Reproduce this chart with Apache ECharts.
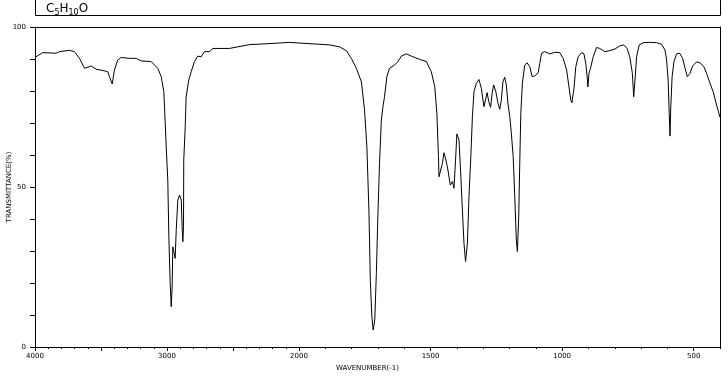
<!DOCTYPE html>
<html><head><meta charset="utf-8">
<script src="https://cdn.jsdelivr.net/npm/echarts@6/dist/echarts.min.js"></script>
<style>html,body{margin:0;padding:0;background:#fff}#c{width:728px;height:380px}</style>
</head><body><div id="c"></div>
<script>
// Wavenumber (cm-1) and transmittance (%)
const wavenumber = [
 4000,3941,3839,3814,3739,3701,3663,3625,3574,3536,3473,3448,3436,3415,3398,3373,3347,3284,3233,3195,
 3120,3070,3044,3024,3019,3006,2994,2986,2976,2968,2961,2956,2948,2938,2930,2918,2905,2892,2885,2880,
 2875,2873,2862,2855,2835,2817,2792,2767,2741,2716,2678,2653,2527,2375,2227,2073,2000,
 1884,1846,1820,1801,1782,1763,1751,1742,1734,1729,1723,1718,1712,1706,1700,1694,1687,1681,1675,1666,
 1656,1637,1624,1611,1592,1573,1542,1516,1497,1484,1476,1470,1468,1462,1455,1449,1443,1434,1425,1417,
 1411,1405,1400,1392,1386,1379,1373,1367,1360,1354,1347,1341,1335,1326,1316,1307,1297,1290,1285,1279,
 1272,1266,1260,1252,1244,1237,1231,1225,1218,1212,1206,1199,1193,1186,1180,1174,1170,1165,1161,1157,
 1151,1142,1133,1126,1123,1114,1104,1091,1085,1078,1066,1047,1028,1009,996,983,974,967,963,955,
 948,939,926,917,910,905,902,898,892,882,869,857,838,819,800,781,766,753,743,733,
 728,723,717,707,692,667,641,622,609,603,597,593,590,587,582,575,565,553,542,533,
 524,514,504,489,476,461,451,438,426,413,400
];
const transmittance = [
 90.5,92.0,91.8,92.3,92.7,92.3,90.2,87.1,87.8,86.8,86.3,86.0,84.5,82.2,86.6,89.7,90.5,90.2,90.2,89.4,
 89.2,87.1,84.5,79.8,75.1,62.6,52.2,34.5,19.9,12.6,18.8,31.3,31.3,27.7,36.6,45.9,47.5,45.9,37.1,32.9,
 37.6,58.4,68.8,78.2,83.4,86.0,89.2,90.9,90.7,92.3,92.3,93.3,93.3,94.5,94.8,95.2,95.0,
 94.4,93.8,92.6,90.2,87.1,82.9,74.1,62.6,41.8,20.9,9.5,5.3,8.4,23.0,41.8,57.4,70.9,75.1,78.2,84.5,
 87.1,88.1,89.2,90.9,91.6,90.9,89.9,89.2,86.0,81.3,73.0,59.5,53.2,53.2,57.4,60.7,59.0,55.3,50.6,51.7,
 49.6,58.4,66.6,64.7,55.3,42.8,32.4,26.7,32.4,47.0,59.5,72.0,79.8,82.4,83.6,80.8,75.1,77.7,79.5,76.7,
 74.9,79.3,81.9,79.8,76.2,74.3,77.2,82.9,84.3,81.9,76.2,72.0,66.8,59.5,47.0,33.4,29.8,40.7,57.4,73.0,
 82.4,88.1,88.8,88.4,87.6,84.5,84.7,85.7,88.6,91.8,92.3,91.6,92.1,92.0,90.2,86.6,81.3,77.2,76.3,80.8,
 87.6,90.7,92.0,91.6,88.6,84.5,81.3,85.5,87.1,90.7,93.6,93.3,92.3,92.6,93.1,94.1,94.4,93.3,90.7,85.5,
 78.2,83.4,90.7,94.4,95.1,95.2,95.1,94.6,92.8,89.7,83.4,73.0,65.9,75.1,84.5,89.2,91.6,91.8,90.2,87.1,
 84.5,85.5,87.8,89.1,88.8,87.6,85.5,82.4,79.8,75.6,71.8
];
const xTickLabels = [4000, 3000, 2000, 1500, 1000, 500];
const yTickLabels = [0, 50, 100];
const formulaParts = ['C', '5', 'H', '10', 'O'];
const xTitle = 'WAVENUMBER(-1)';
const yTitle = 'TRANSMITTANCE(%)';

(function () {
const pts = wavenumber.map((w, i) => [w, transmittance[i]]);
const hiPts = pts.filter(p => p[0] >= 2000);
const loPts = pts.filter(p => p[0] <= 2000);

const FONT = 'DejaVu Sans';
const BLACK = '#000';
const gLeft = 35, gTop = 27, gHeight = 320, gSplit = 299, gRight = 720;
const loW = gRight - gSplit;
const perCm = loW / 1600;

const lineBase = { show: true, lineStyle: { color: BLACK, width: 1 } };
const noSplit = { show: false };

const chart = echarts.init(document.getElementById('c'), null, { renderer: 'canvas' });
chart.setOption({
  animation: false,
  backgroundColor: '#fff',
  title: [
    {
      text: '{b|' + formulaParts[0] + '}{s|' + formulaParts[1] + '}{b|' + formulaParts[2] + '}{s|' + formulaParts[3] + '}{b|' + formulaParts[4] + '}',
      left: 41, top: -2,
      textStyle: {
        fontWeight: 'normal',
        rich: {
          b: { fontFamily: FONT, fontSize: 12, fontWeight: 'normal', color: BLACK, lineHeight: 14, verticalAlign: 'top' },
          s: { fontFamily: FONT, fontSize: 8, fontWeight: 'normal', color: BLACK, lineHeight: 14, verticalAlign: 'bottom', padding: [5, 0, 0, 0] }
        }
      }
    },
    {
      text: xTitle, left: 331, top: 360,
      textStyle: { fontFamily: FONT, fontSize: 7, fontWeight: 'normal', color: BLACK }
    }
  ],
  graphic: [{
    type: 'rect', silent: true,
    shape: { x: gLeft + 0.5, y: -4.5, width: gRight - gLeft, height: 20 },
    style: { fill: 'none', stroke: BLACK, lineWidth: 1 }
  }],
  grid: [
    { left: gLeft, top: gTop, width: gSplit - gLeft, height: gHeight },
    { left: gSplit, top: gTop, width: loW, height: gHeight },
    { left: gSplit, top: gTop, width: perCm * 1500, height: gHeight }
  ],
  xAxis: [
    {
      gridIndex: 0, type: 'value', min: 2000, max: 4000, inverse: true, interval: 500,
      axisLine: lineBase,
      axisTick: { show: true, length: 4, lineStyle: { color: BLACK } },
      minorTick: { show: true, splitNumber: 5, length: 2, lineStyle: { color: BLACK } },
      axisLabel: { formatter: v => (xTickLabels.includes(v) && v !== 2000) ? String(v) : '', color: BLACK, fontFamily: FONT, fontSize: 7, margin: 6 },
      splitLine: noSplit, minorSplitLine: noSplit
    },
    {
      gridIndex: 1, type: 'value', min: 400, max: 2000, inverse: true, interval: 100,
      axisLine: lineBase,
      axisTick: { show: true, length: 2, lineStyle: { color: BLACK } },
      axisLabel: { show: false },
      splitLine: noSplit
    },
    {
      gridIndex: 2, type: 'value', min: 500, max: 2000, inverse: true, interval: 500,
      axisLine: { show: false },
      axisTick: { show: true, length: 4, lineStyle: { color: BLACK } },
      axisLabel: { formatter: v => xTickLabels.includes(v) ? String(v) : '', color: BLACK, fontFamily: FONT, fontSize: 7, margin: 6 },
      splitLine: noSplit
    },
    {
      gridIndex: 0, type: 'value', min: 2000, max: 4000, inverse: true, position: 'top',
      axisLine: lineBase, axisTick: { show: false }, axisLabel: { show: false }, splitLine: noSplit
    },
    {
      gridIndex: 1, type: 'value', min: 400, max: 2000, inverse: true, position: 'top',
      axisLine: lineBase, axisTick: { show: false }, axisLabel: { show: false }, splitLine: noSplit
    }
  ],
  yAxis: [
    {
      gridIndex: 0, type: 'value', min: 0, max: 100, interval: 10,
      axisLine: lineBase,
      axisTick: { show: true, length: 5, lineStyle: { color: BLACK } },
      axisLabel: { formatter: v => yTickLabels.includes(v) ? String(v) : '', color: BLACK, fontFamily: FONT, fontSize: 7, margin: 9 },
      splitLine: noSplit,
      name: yTitle, nameLocation: 'middle', nameGap: 22, nameRotate: 90, nameMoveOverlap: false,
      nameTextStyle: { fontFamily: FONT, fontSize: 7, color: BLACK }
    },
    {
      gridIndex: 1, type: 'value', min: 0, max: 100, position: 'right',
      axisLine: lineBase, axisTick: { show: false }, axisLabel: { show: false }, splitLine: noSplit
    },
    { gridIndex: 2, type: 'value', min: 0, max: 100, show: false, splitLine: noSplit }
  ],
  series: [
    {
      type: 'line', xAxisIndex: 0, yAxisIndex: 0, data: hiPts,
      showSymbol: false, symbol: 'none', lineStyle: { color: BLACK, width: 1 }, silent: true
    },
    {
      type: 'line', xAxisIndex: 1, yAxisIndex: 1, data: loPts,
      showSymbol: false, symbol: 'none', lineStyle: { color: BLACK, width: 1 }, silent: true
    }
  ]
});
})();
</script>
</body></html>
